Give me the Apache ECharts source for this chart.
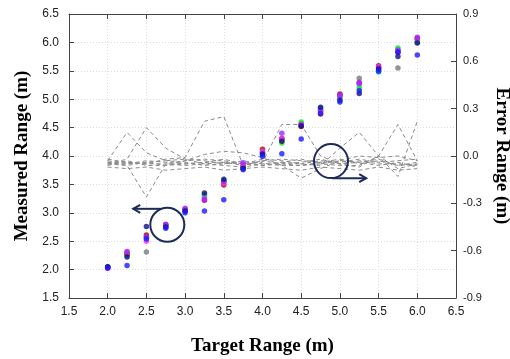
<!DOCTYPE html>
<html>
<head>
<meta charset="utf-8">
<script src="https://cdn.jsdelivr.net/npm/echarts@6/dist/echarts.min.js"></script>
<style>
  html, body { margin: 0; padding: 0; background: #fff; }
  #chart { width: 510px; height: 359px; }
</style>
</head>
<body>
<div id="chart"></div>
<script>
// target ranges (m)
const targets = [2.0, 2.25, 2.5, 2.75, 3.0, 3.25, 3.5, 3.75, 4.0, 4.25, 4.5, 4.75, 5.0, 5.25, 5.5, 5.75, 6.0];

// measured ranges, one list per trial
const measGray    = [2.04, 2.26, 2.31, 2.76, 3.05, 3.32, 3.56, 3.79, 4.06, 4.29, 4.57, 4.84, 5.06, 5.37, 5.55, 5.55, 6.00];
const measCyan    = [2.04, 2.25, 2.55, 2.76, 3.03, 3.30, 3.57, 3.83, 4.04, 4.28, 4.55, 4.83, 5.02, 5.24, 5.48, 5.88, 6.02];
const measGreen   = [2.05, 2.27, 2.57, 2.77, 3.04, 3.28, 3.55, 3.80, 4.07, 4.23, 4.60, 4.80, 5.03, 5.19, 5.52, 5.90, 6.04];
const measRed     = [2.04, 2.28, 2.61, 2.79, 3.05, 3.22, 3.49, 3.82, 4.12, 4.31, 4.52, 4.74, 5.09, 5.28, 5.59, 5.82, 6.07];
const measMagenta = [2.02, 2.30, 2.50, 2.78, 3.06, 3.25, 3.52, 3.85, 4.08, 4.31, 4.55, 4.78, 5.05, 5.28, 5.57, 5.84, 6.07];
const measPurple  = [2.04, 2.32, 2.58, 2.80, 3.08, 3.23, 3.55, 3.88, 4.05, 4.40, 4.55, 4.80, 5.07, 5.30, 5.55, 5.86, 6.09];
const measNavy    = [2.05, 2.22, 2.76, 2.75, 3.03, 3.35, 3.59, 3.78, 4.03, 4.26, 4.53, 4.86, 4.98, 5.10, 5.53, 5.75, 5.99];
const measBlue    = [2.03, 2.07, 2.54, 2.73, 3.00, 3.03, 3.23, 3.76, 3.99, 4.04, 4.30, 4.75, 4.95, 5.15, 5.49, 5.83, 5.78];

// error ranges (m), right axis
const err1 = [-0.03, 0.15, 0.02, -0.03, -0.02, -0.05, -0.04, -0.06, -0.03, -0.02, -0.03, -0.04, -0.02, -0.05, -0.03, -0.06, -0.05];
const err2 = [-0.05, -0.02, 0.18, 0.05, -0.02, -0.03, -0.05, -0.03, -0.05, -0.04, -0.02, -0.05, -0.03, -0.04, -0.06, -0.04, -0.07];
const err3 = [-0.04, -0.06, -0.26, -0.05, -0.03, -0.02, -0.03, -0.05, -0.02, -0.03, -0.05, -0.03, -0.04, -0.02, -0.04, -0.03, -0.02];
const err4 = [-0.02, -0.04, -0.05, -0.02, -0.01, 0.22, 0.25, -0.06, -0.03, -0.05, -0.04, -0.02, -0.05, -0.03, -0.05, -0.05, -0.06];
const err5 = [-0.05, -0.05, -0.03, -0.04, -0.05, -0.04, -0.02, -0.05, -0.04, 0.20, 0.20, 0.00, -0.05, -0.04, -0.02, -0.06, -0.04];
const err6 = [-0.06, -0.03, -0.06, -0.06, -0.03, 0.01, 0.03, 0.02, -0.01, -0.06, -0.14, -0.08, -0.03, 0.00, -0.01, 0.00, -0.03];
const err7 = [-0.03, -0.05, -0.04, -0.03, -0.04, -0.06, -0.05, -0.04, -0.06, -0.04, -0.05, -0.06, 0.05, 0.15, 0.00, -0.08, -0.05];
const err8 = [-0.04, -0.04, -0.05, -0.05, -0.06, -0.05, -0.06, -0.07, -0.05, -0.06, -0.06, -0.05, -0.06, -0.06, 0.00, 0.20, -0.03];
const err9 = [-0.05, -0.06, -0.04, -0.06, -0.05, -0.04, -0.04, -0.05, -0.06, -0.05, -0.06, -0.04, -0.05, -0.07, 0.00, -0.13, 0.22];
const err10 = [-0.07, -0.08, -0.07, -0.09, -0.08, -0.07, -0.09, -0.08, -0.07, -0.08, -0.09, -0.07, -0.08, -0.09, -0.07, -0.09, -0.08];

const chart = echarts.init(document.getElementById('chart'));

const pair = vals => targets.map((t, i) => [t, vals[i]]);

const scatter = (vals, color) => ({
  type: 'scatter',
  data: pair(vals),
  symbol: 'circle',
  symbolSize: 5.5,
  itemStyle: { color: color },
  yAxisIndex: 0,
  z: 3
});

const errLine = vals => ({
  type: 'line',
  data: pair(vals),
  yAxisIndex: 1,
  showSymbol: false,
  lineStyle: { color: '#8a8a8a', width: 1, type: [4, 3] },
  z: 2
});

const labelFont = { fontFamily: 'Liberation Sans', fontSize: 12, color: '#222' };
const nameFont = { fontFamily: 'Liberation Serif', fontSize: 19, fontWeight: 'bold', color: '#000' };
const frame = { show: true, onZero: false, lineStyle: { color: '#444', width: 1 } };
const grid = { show: true, lineStyle: { color: '#ddd', type: [1, 2] } };
const ticks = { show: true, inside: true, length: 5, lineStyle: { color: '#444' } };

chart.setOption({
  animation: false,
  grid: { left: 69, right: 54, top: 14, bottom: 61, outerBoundsMode: 'none', containLabel: false },
  xAxis: [
    {
      type: 'value', min: 1.5, max: 6.5, interval: 0.5,
      name: 'Target Range (m)', nameLocation: 'middle', nameGap: 39, nameTextStyle: nameFont,
      axisLine: frame, axisTick: ticks,
      axisLabel: Object.assign({ margin: 8, formatter: v => v.toFixed(1) }, labelFont),
      splitLine: grid
    },
    {
      type: 'value', min: 1.5, max: 6.5, interval: 0.5, position: 'top',
      axisLine: frame, axisTick: ticks,
      axisLabel: { show: false },
      splitLine: { show: false }
    }
  ],
  yAxis: [
    {
      type: 'value', min: 1.5, max: 6.5, interval: 0.5,
      name: 'Measured Range (m)', nameLocation: 'middle', nameGap: 37, nameTextStyle: nameFont,
      axisLine: frame, axisTick: ticks,
      axisLabel: Object.assign({ margin: 10, formatter: v => v.toFixed(1) }, labelFont),
      splitLine: grid
    },
    {
      type: 'value', min: -0.9, max: 0.9, interval: 0.3, position: 'right',
      name: 'Error Range (m)', nameLocation: 'middle', nameGap: 31, nameRotate: -90, nameTextStyle: nameFont,
      axisLine: frame, axisTick: ticks,
      axisLabel: { margin: 7, fontFamily: 'Liberation Sans', fontSize: 11, color: '#222', formatter: v => v.toFixed(1) },
      splitLine: { show: false }
    }
  ],
  series: [
    errLine(err1), errLine(err2), errLine(err3), errLine(err4), errLine(err5),
    errLine(err6), errLine(err7), errLine(err8), errLine(err9), errLine(err10),
    scatter(measGray, '#7a7a7a'),
    scatter(measCyan, '#00d8ff'),
    scatter(measGreen, '#20e020'),
    scatter(measRed, '#b00000'),
    scatter(measMagenta, '#ff30ff'),
    scatter(measPurple, '#9a28ff'),
    scatter(measNavy, '#101080'),
    scatter(measBlue, '#1a1aff')
  ]
});

// annotation circles with arrows, placed in data coordinates
const px = (x, y) => chart.convertToPixel({ xAxisIndex: 0, yAxisIndex: 0 }, [x, y]);
const navy = '#1c2b5a';
const c1 = px(2.77, 2.79), a1s = px(2.68, 3.07), a1e = px(2.33, 3.07);
const c2 = px(4.885, 3.91), a2s = px(4.90, 3.61), a2e = px(5.34, 3.61);
const head = (end, dir) => ({
  type: 'polyline',
  shape: { points: [[end[0] - dir * 7, end[1] - 4], end, [end[0] - dir * 7, end[1] + 4]] },
  style: { stroke: navy, lineWidth: 2, fill: null },
  z: 10
});
chart.setOption({
  graphic: [
    { type: 'circle', shape: { cx: c1[0], cy: c1[1], r: 17 }, style: { stroke: navy, lineWidth: 2, fill: null }, z: 10 },
    { type: 'line', shape: { x1: a1s[0], y1: a1s[1], x2: a1e[0], y2: a1e[1] }, style: { stroke: navy, lineWidth: 2 }, z: 10 },
    head(a1e, -1),
    { type: 'circle', shape: { cx: c2[0], cy: c2[1], r: 17 }, style: { stroke: navy, lineWidth: 2, fill: null }, z: 10 },
    { type: 'line', shape: { x1: a2s[0], y1: a2s[1], x2: a2e[0], y2: a2e[1] }, style: { stroke: navy, lineWidth: 2 }, z: 10 },
    head(a2e, 1)
  ]
});
</script>
</body>
</html>
